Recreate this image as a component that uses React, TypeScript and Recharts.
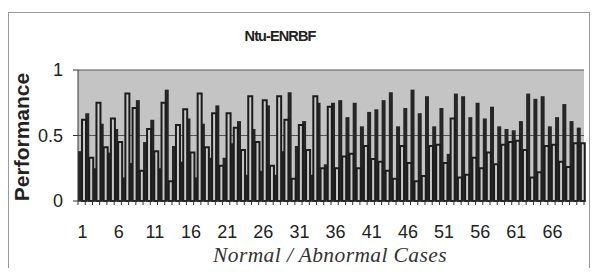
import React from "react";
import { BarChart, Bar, XAxis, YAxis, CartesianGrid } from "recharts";

// Ntu-ENRBF output per case: dark = one class, light = the other
const cases = [
  1, 2, 3, 4, 5, 6, 7, 8, 9, 10, 11, 12, 13, 14, 15, 16, 17, 18, 19, 20,
  21, 22, 23, 24, 25, 26, 27, 28, 29, 30, 31, 32, 33, 34, 35, 36, 37, 38, 39, 40,
  41, 42, 43, 44, 45, 46, 47, 48, 49, 50, 51, 52, 53, 54, 55, 56, 57, 58, 59, 60,
  61, 62, 63, 64, 65, 66, 67, 68, 69, 70,
];

const darkValues = [
  0.38, 0.67, 0.25, 0.59, 0.37, 0.55, 0.18, 0.29, 0.77, 0.45,
  0.62, 0.25, 0.85, 0.42, 0.3, 0.63, 0.18, 0.59, 0.33, 0.73,
  0.33, 0.44, 0.61, 0.2, 0.55, 0.23, 0.73, 0.2, 0.38, 0.83,
  0.42, 0.61, 0.2, 0.75, 0.28, 0.75, 0.77, 0.64, 0.75, 0.57,
  0.68, 0.7, 0.77, 0.83, 0.57, 0.71, 0.85, 0.67, 0.8, 0.57,
  0.71, 0.36, 0.82, 0.8, 0.64, 0.75, 0.63, 0.72, 0.57, 0.55,
  0.54, 0.61, 0.82, 0.78, 0.8, 0.57, 0.64, 0.74, 0.61, 0.56,
];

const lightValues = [
  0.62, 0.33, 0.75, 0.41, 0.63, 0.45, 0.82, 0.71, 0.23, 0.55,
  0.38, 0.75, 0.15, 0.58, 0.7, 0.37, 0.82, 0.41, 0.67, 0.27,
  0.67, 0.56, 0.39, 0.8, 0.45, 0.77, 0.27, 0.8, 0.62, 0.17,
  0.58, 0.39, 0.8, 0.25, 0.72, 0.25, 0.34, 0.36, 0.25, 0.42,
  0.32, 0.3, 0.23, 0.17, 0.42, 0.29, 0.15, 0.19, 0.42, 0.43,
  0.29, 0.63, 0.18, 0.2, 0.33, 0.25, 0.37, 0.28, 0.43, 0.45,
  0.46, 0.39, 0.18, 0.22, 0.42, 0.43, 0.3, 0.26, 0.44, 0.44,
];

const yTicks = [0, 0.5, 1];

const data = cases.map((c, i) => ({ case: c, dark: darkValues[i], light: lightValues[i] }));

const PLOT_LEFT = 78;
const PLOT_RIGHT = 584;
const PLOT_TOP = 70;
const PLOT_BOTTOM = 201;
const BAND = (PLOT_RIGHT - PLOT_LEFT) / cases.length;

const XTick = (props: any) => {
  const { x, y, payload, index } = props;
  const half = BAND / 2;
  return (
    <g>
      <line x1={x - half} y1={y} x2={x - half} y2={y + 4} stroke="#333" />
      {index === cases.length - 1 && (
        <line x1={x + half} y1={y} x2={x + half} y2={y + 4} stroke="#333" />
      )}
      {index % 5 === 0 && (
        <text
          x={x + 1}
          y={y + 37}
          textAnchor="middle"
          fontFamily="Liberation Sans, Arial, sans-serif"
          fontSize={18}
          fill="#222"
        >
          {payload.value}
        </text>
      )}
    </g>
  );
};

export default function App() {
  return (
    <div style={{ position: "relative", width: 599, height: 276, background: "#fff", margin: -8 }}>
      <div
        style={{
          position: "absolute",
          left: 8,
          top: 12,
          width: 582,
          height: 258,
          border: "1px solid #9a9a9a",
          boxSizing: "border-box",
        }}
      />
      <div
        style={{
          position: "absolute",
          left: 220,
          top: 28,
          width: 120,
          textAlign: "center",
          fontFamily: "Liberation Sans, Arial, sans-serif",
          fontWeight: "bold",
          fontSize: 14.5,
          letterSpacing: -0.9,
          color: "#222",
        }}
      >
        Ntu-ENRBF
      </div>
      <div
        style={{
          position: "absolute",
          left: 22 - 80,
          top: 137 - 12,
          width: 160,
          height: 24,
          lineHeight: "24px",
          textAlign: "center",
          transform: "rotate(-90deg)",
          fontFamily: "Liberation Sans, Arial, sans-serif",
          fontWeight: "bold",
          fontSize: 21,
          color: "#222",
        }}
      >
        Performance
      </div>
      <div
        style={{
          position: "absolute",
          left: 160,
          top: 243,
          width: 340,
          textAlign: "center",
          fontFamily: "Liberation Serif, Times New Roman, serif",
          fontStyle: "italic",
          fontSize: 21.5,
          letterSpacing: 0.4,
          color: "#333",
        }}
      >
        Normal / Abnormal Cases
      </div>
      <div style={{ position: "absolute", left: 0, top: 0 }}>
        <BarChart
          width={599}
          height={276}
          data={data}
          margin={{ top: PLOT_TOP, right: 599 - PLOT_RIGHT, bottom: 0, left: 0 }}
          barCategoryGap={0}
          barGap={0}
        >
          <CartesianGrid
            vertical={false}
            fill="#c4c4c4"
            fillOpacity={1}
            stroke="#555"
            strokeWidth={1}
          />
          <XAxis
            dataKey="case"
            interval={0}
            tickLine={false}
            tickSize={0}
            tickMargin={0}
            axisLine={{ stroke: "#333" }}
            tick={<XTick />}
            height={276 - PLOT_BOTTOM}
          />
          <YAxis
            domain={[0, 1]}
            ticks={yTicks}
            width={PLOT_LEFT}
            tickSize={5}
            tickMargin={10}
            tickLine={{ stroke: "#333" }}
            axisLine={{ stroke: "#333" }}
            tickFormatter={(v: number) => String(v)}
            tick={{ fontFamily: "Liberation Sans, Arial, sans-serif", fontSize: 18, fill: "#222" }}
          />
          <YAxis
            yAxisId="right"
            orientation="right"
            domain={[0, 1]}
            width={0}
            tick={false}
            tickLine={false}
            axisLine={{ stroke: "#777" }}
          />
          <Bar dataKey="dark" fill="#262626" isAnimationActive={false} />
          <Bar dataKey="light" fill="#c8c8c8" stroke="#1c1c1c" strokeWidth={2} isAnimationActive={false} />
        </BarChart>
      </div>
    </div>
  );
}
